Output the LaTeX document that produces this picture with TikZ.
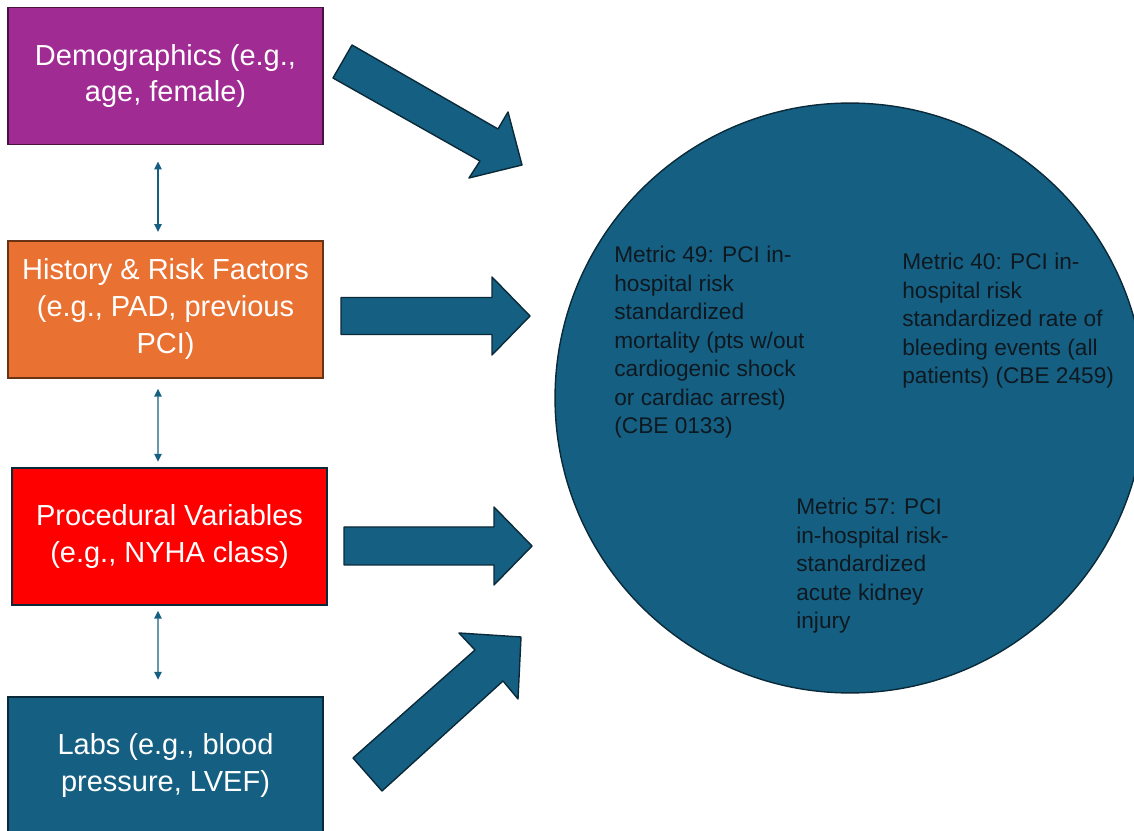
\documentclass[tikz,border=0pt]{standalone}
\usepackage{fontspec}
\setmainfont{Liberation Sans}
\usetikzlibrary{arrows.meta,positioning}
\definecolor{purp}{HTML}{A02B93}
\definecolor{orng}{HTML}{E97132}
\definecolor{redf}{HTML}{FF0000}
\definecolor{navy}{HTML}{156082}
\definecolor{edge}{HTML}{0A2A3A}
\definecolor{ink}{HTML}{0E1820}
\tikzset{
  box/.style={draw, line width=1.1pt, minimum width=6.3cm, minimum height=2.74cm, inner sep=0pt,
    align=center, text=white, font=\fontsize{16.5}{21}\selectfont},
  link/.style={draw=navy, line width=0.85pt, {Triangle[length=4.5pt,width=4.2pt]}-{Triangle[length=4.5pt,width=4.2pt]}},
  big/.style={fill=navy, draw=edge, line width=0.8pt, line join=round},
  metric/.style={anchor=north west, align=left, inner sep=0pt, text=ink, font=\fontsize{12.9}{16.2}\selectfont},
}
\begin{document}
\begin{tikzpicture}[x=0.02cm, y=-0.02cm]
\useasboundingbox (0,0) rectangle (1134,831);
\clip (0,0) rectangle (1134,831);
\fill[white] (0,0) rectangle (1134,831);

% input boxes
\node[box, fill=purp, draw=purp!45!black] (demo) at (165.5,76) {Demographics (e.g.,\\age, female)};
\node[box, fill=orng, draw=orng!45!black, below=1.89cm of demo] (hist) {History \& Risk Factors\\(e.g., PAD, previous\\PCI)};
\node[box, fill=redf, draw=edge, below=1.76cm of hist, xshift=0.08cm] (proc) {Procedural Variables\\(e.g., NYHA class)};
\node[box, fill=navy, draw=edge, below=1.80cm of proc, xshift=-0.08cm] (labs) {Labs (e.g., blood\\pressure, LVEF)};

\draw[link] ([xshift=-0.15cm,yshift=-0.32cm]demo.south) -- ([xshift=-0.15cm,yshift=0.16cm]hist.north);
\draw[link] ([xshift=-0.15cm,yshift=-0.2cm]hist.south) -- ([xshift=-0.23cm,yshift=0.1cm]proc.north);
\draw[link] ([xshift=-0.23cm,yshift=-0.1cm]proc.south) -- ([xshift=-0.15cm,yshift=0.32cm]labs.north);

% outcome metrics
\node[circle, fill=navy, draw=edge, line width=0.8pt, minimum size=11.8cm] (hub) at (850,398) {};
\node[metric] (m49) at (614,246) {Metric 49: PCI in-\\hospital risk\\standardized\\mortality (pts w/out\\cardiogenic shock\\or cardiac arrest)\\(CBE 0133)};
\node[metric] (m40) at (902,253) {Metric 40: PCI in-\\hospital risk\\standardized rate of\\bleeding events (all\\patients) (CBE 2459)};
\node[metric] (m57) at (796,498) {Metric 57: PCI\\in-hospital risk-\\standardized\\acute kidney\\injury};

% block arrows
\draw[big] (352,45) -- (498,129) -- (508,112) -- (522,165) -- (469,178) -- (480,161) -- (333,78) -- cycle;
\draw[big] (341,297.5) -- (492,297.5) -- (492,277) -- (530,316) -- (492,355) -- (492,334.5) -- (341,334.5) -- cycle;
\draw[big] (344,527) -- (494,527) -- (494,507) -- (532,546) -- (494,585) -- (494,565) -- (344,565) -- cycle;
\draw[big] (353,758) -- (475,650) -- (459,633) -- (521,637) -- (518,699) -- (503,681) -- (382,791) -- cycle;
\end{tikzpicture}
\end{document}
